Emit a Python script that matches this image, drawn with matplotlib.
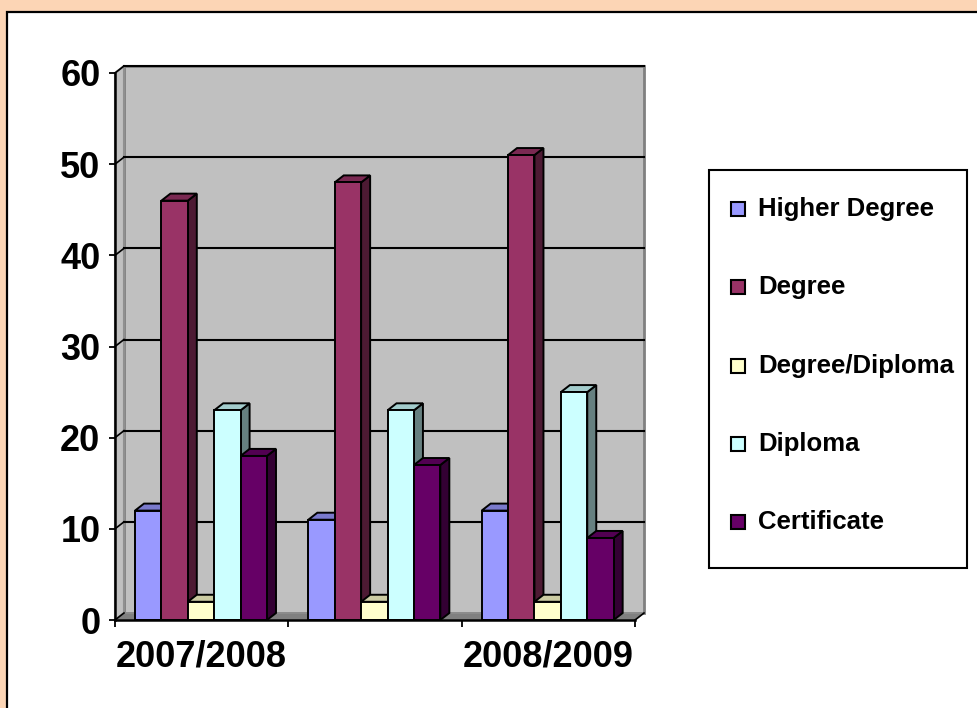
import numpy as np
import matplotlib
matplotlib.use('Agg')
import matplotlib.pyplot as plt
from matplotlib.patches import Polygon, Rectangle
from matplotlib.colors import to_rgb

plt.rcParams['font.family'] = ['Liberation Sans', 'DejaVu Sans']
plt.rcParams['font.weight'] = 'bold'

# data
years = ['2007/2008', '', '2008/2009']
series = ['Higher Degree', 'Degree', 'Degree/Diploma', 'Diploma', 'Certificate']
higher_degree = [12, 11, 12]
degree = [46, 48, 51]
degree_diploma = [2, 2, 2]
diploma = [23, 23, 25]
certificate = [18, 17, 9]
values = [higher_degree, degree, degree_diploma, diploma, certificate]
colors = ['#9999FF', '#993366', '#FFFFCC', '#CCFFFF', '#660066']

W, H = 978, 708
fig = plt.figure(figsize=(W / 100, H / 100), dpi=100)
fig.patch.set_facecolor('#FCD5B5')

# white chart area with black frame
fig.patches.append(Rectangle((7 / W, -0.01), 1, 1.01 - 12 / H, transform=fig.transFigure,
                             facecolor='white', edgecolor='black', lw=1.6, zorder=-1))

# front plane of the 3-D plot
x0, x1, y0, y1 = 115, 635, 620, 73
ax = fig.add_axes([x0 / W, 1 - y0 / H, (x1 - x0) / W, (y0 - y1) / H])
ax.set_zorder(2)
ax.set_xlim(0, 3)
ax.set_ylim(0, 60)
ax.patch.set_visible(False)

# depth offset (pixels -> data)
DX = 9 / ((x1 - x0) / 3)
DY = 7 / ((y0 - y1) / 60)

def shade(c, f):
    return tuple(np.array(to_rgb(c)) * f)

# walls and floor
ax.add_patch(Polygon([(DX, DY), (3 + DX, DY), (3 + DX, 60 + DY), (DX, 60 + DY)],
                     closed=True, facecolor='#C0C0C0', edgecolor='#808080', lw=2, zorder=0.5, clip_on=False))
ax.add_patch(Polygon([(0, 0), (DX, DY), (DX, 60 + DY), (0, 60)],
                     closed=True, facecolor='#C0C0C0', edgecolor='#909090', lw=1.5, zorder=0.6, clip_on=False))
ax.add_patch(Polygon([(0, 0), (3, 0), (3 + DX, DY), (DX, DY)],
                     closed=True, facecolor='#808080', edgecolor='#909090', lw=1, zorder=0.7, clip_on=False))

for v in range(10, 61, 10):
    ax.plot([DX, 3 + DX], [v + DY, v + DY], color='black', lw=1.5, zorder=0.8, clip_on=False)
for v in range(0, 61, 10):
    ax.plot([0, DX], [v, v + DY], color='black', lw=1.2, zorder=0.9, clip_on=False)
ax.plot([3, 3 + DX], [0, DY], color='black', lw=1.2, zorder=0.9, clip_on=False)

# bars
bw = 26.4 / ((x1 - x0) / 3)
start = 20 / ((x1 - x0) / 3)
for g in range(len(years)):
    for j, (vals, c) in enumerate(zip(values, colors)):
        v = vals[g]
        xl = g + start + j * bw
        xr = xl + bw
        z = 3 + g * 0.1 + j * 0.01
        ax.add_patch(Polygon([(xr, 0), (xr + DX, DY), (xr + DX, v + DY), (xr, v)],
                             closed=True, facecolor=shade(c, 0.5), edgecolor='black', lw=1.4,
                             joinstyle='miter', zorder=z, clip_on=False))
        ax.add_patch(Polygon([(xl, v), (xl + DX, v + DY), (xr + DX, v + DY), (xr, v)],
                             closed=True, facecolor=shade(c, 0.8), edgecolor='black', lw=1.4,
                             joinstyle='miter', zorder=z, clip_on=False))
        ax.add_patch(Rectangle((xl, 0), bw, v, facecolor=c, edgecolor='black', lw=1.4,
                               zorder=z + 0.001, clip_on=False))

# axes
for s in ['top', 'right']:
    ax.spines[s].set_visible(False)
for s in ['left', 'bottom']:
    ax.spines[s].set_linewidth(1.8)
    ax.spines[s].set_zorder(5)
ax.set_yticks(range(0, 61, 10))
ax.tick_params(axis='y', length=4.5, width=1.3, pad=6, labelsize=26)
ax.set_xticks([0, 1, 2, 3])
ax.set_xticklabels([])
ax.set_xticks([0.5, 1.5, 2.5], minor=True)
ax.set_xticklabels(years, minor=True)
ax.tick_params(axis='x', which='major', length=5, width=1.3)
ax.tick_params(axis='x', which='minor', length=0, pad=14, labelsize=26)

# legend
lx0, lx1, ly0, ly1 = 709, 967, 170, 568
fig.patches.append(Rectangle((lx0 / W, 1 - ly1 / H), (lx1 - lx0) / W, (ly1 - ly0) / H,
                             transform=fig.transFigure, facecolor='white', edgecolor='black', lw=1.5))
for k, (name, c) in enumerate(zip(series, colors)):
    yc = 209 + k * 78.3
    fig.patches.append(Rectangle((731 / W, 1 - (yc + 7) / H), 14 / W, 14 / H,
                                 transform=fig.transFigure, facecolor=c, edgecolor='black', lw=1.5))
    fig.text(758 / W, 1 - yc / H, name, fontsize=18.5, fontweight='bold', va='center', ha='left')

fig.savefig('out.png', dpi=100, facecolor=fig.get_facecolor())
